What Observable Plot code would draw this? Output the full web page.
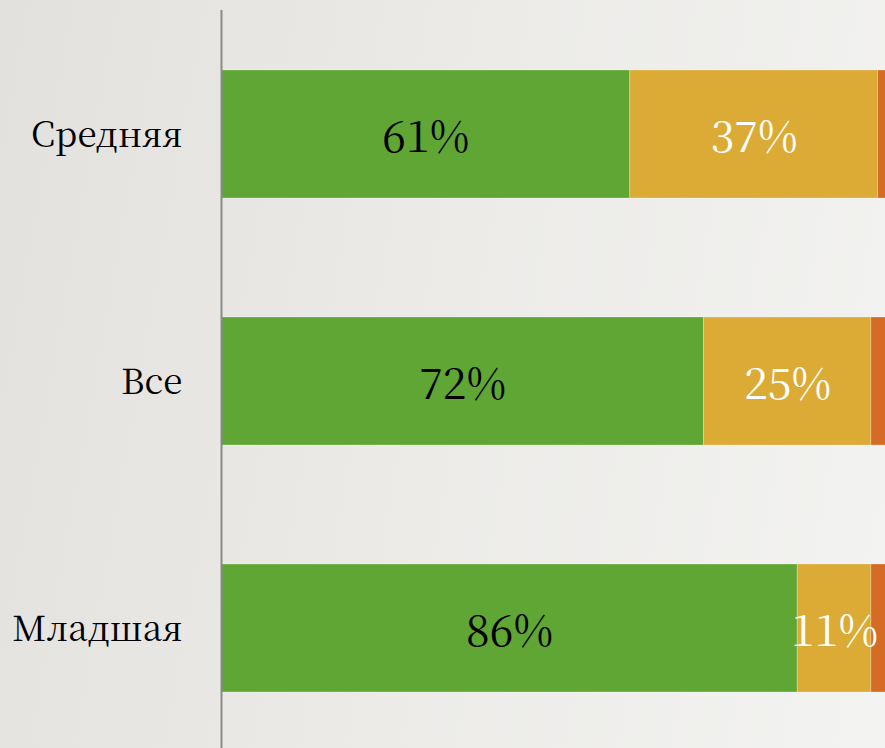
<!DOCTYPE html>
<html>
<head>
<meta charset="utf-8">
<script src="https://cdn.jsdelivr.net/npm/d3@7"></script>
<script src="https://cdn.jsdelivr.net/npm/@observablehq/plot@0.6"></script>
<style>
  html, body { margin: 0; padding: 0; overflow: hidden; }
  body {
    width: 885px; height: 748px;
    background: linear-gradient(100deg, #e2e1de 0%, #ebeae7 45%, #f3f3f1 100%);
  }
  #chart svg { display: block; background: transparent; }
</style>
</head>
<body>
<div id="chart"></div>
<script>
const categories = ["Средняя", "Все", "Младшая"];
const seriesNames = ["Серия 1", "Серия 2", "Серия 3"];
const series1 = [61, 72, 86];
const series2 = [37, 25, 11];
const series3 = [2, 3, 3];
const seriesColors = ["#5fa634", "#dcab36", "#d46c25"];
const labelColors = ["#000000", "#ffffff", "#ffffff"];
const FONT = "Noto Serif CJK SC";

const allSeries = [series1, series2, series3];
const rows = [];
allSeries.forEach((vals, si) => {
  vals.forEach((v, ci) => {
    rows.push({category: categories[ci], series: seriesNames[si], value: v, si});
  });
});

const chart = Plot.plot({
  width: 885,
  height: 748,
  marginLeft: 221,
  marginRight: 0,
  marginTop: 10,
  marginBottom: 0,
  style: {background: "transparent", fontFamily: FONT},
  x: {domain: [0, 99.1], axis: null},
  y: {domain: categories, paddingInner: 0.48, paddingOuter: 0.228, align: 0.52, label: null},
  color: {domain: seriesNames, range: seriesColors},
  marks: [
    Plot.barX(rows, Plot.stackX({
      x: "value", y: "category", fill: "series", order: seriesNames,
      stroke: "#ffffff", strokeOpacity: 0.25, strokeWidth: 1, clip: true
    })),
    Plot.text(rows.filter(d => d.si < 2), Plot.stackX({
      x: "value", y: "category", z: "series", order: seriesNames,
      text: d => d.value + "%",
      fill: d => labelColors[d.si],
      fontSize: 43, fontFamily: FONT, dy: 4
    })),
    Plot.ruleX([0], {stroke: "#8a8a8a", strokeWidth: 2}),
    Plot.axisY({tickSize: 0, tickPadding: 39, fontSize: 35, fontFamily: FONT, dy: 1, label: null, fill: "#000"})
  ]
});
document.getElementById("chart").appendChild(chart);
</script>
</body>
</html>
